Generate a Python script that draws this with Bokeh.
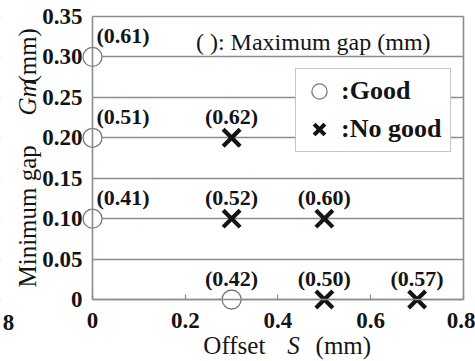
import math
from bokeh.plotting import figure
from bokeh.models import (Range1d, FixedTicker, LinearAxis, Label, Legend,
                          LegendItem, BoxAnnotation, ColumnDataSource)
from bokeh.core.properties import value
from bokeh.embed import file_html
from bokeh.resources import INLINE

# ---- data ----
good_offset = [0.0, 0.0, 0.0, 0.3]
good_min_gap = [0.30, 0.20, 0.10, 0.0]
good_max_gap = [0.61, 0.51, 0.41, 0.42]

ng_offset = [0.3, 0.3, 0.5, 0.5, 0.7]
ng_min_gap = [0.20, 0.10, 0.10, 0.0, 0.0]
ng_max_gap = [0.62, 0.52, 0.60, 0.50, 0.57]

x_ticks = [0, 0.2, 0.4, 0.6, 0.8]
x_tick_labels = ["0", "0.2", "0.4", "0.6", "0.8"]
y_ticks = [0, 0.05, 0.10, 0.15, 0.20, 0.25, 0.30, 0.35]
y_tick_labels = ["0", "0.05", "0.10", "0.15", "0.20", "0.25", "0.30", "0.35"]

GRAY = "#8c8c8c"
INK = "#141414"
SERIF = "Liberation Serif"

XMIN, XMAX = 0.0, 0.8
YMIN, YMAX = 0.0, 0.35
# the frame covers the whole canvas; axes sit at fixed data locations
X0, X1 = -0.1984, 0.8259
Y0, Y1 = -0.0767, 0.3698

p = figure(width=475, height=361, x_range=Range1d(X0, X1), y_range=Range1d(Y0, Y1),
           output_backend="svg", toolbar_location=None,
           min_border_left=0, min_border_right=0, min_border_top=0, min_border_bottom=0,
           background_fill_color="white", border_fill_color="white",
           outline_line_color=None)

# grid (kept inside the plotting area by white masks)
p.xgrid.visible = False
p.ygrid.ticker = FixedTicker(ticks=y_ticks)
p.ygrid.grid_line_color = GRAY
p.ygrid.grid_line_width = 1.6
p.ygrid.level = "image"
p.add_layout(BoxAnnotation(left=X0, right=XMIN, fill_color="white", fill_alpha=1.0,
                           line_color=None, level="underlay"))
p.add_layout(BoxAnnotation(left=XMAX, right=X1, fill_color="white", fill_alpha=1.0,
                           line_color=None, level="underlay"))

# x axis
xa = p.xaxis[0]
xa.ticker = FixedTicker(ticks=x_ticks)
xa.major_label_overrides = {t: l for t, l in zip(x_ticks, x_tick_labels)}
xa.fixed_location = YMIN
xa.bounds = (XMIN, XMAX)
xa.axis_line_color = GRAY
xa.axis_line_width = 1.6
xa.major_tick_in = 5
xa.major_tick_out = 0
xa.major_tick_line_color = GRAY
xa.major_tick_line_width = 1.3
xa.minor_tick_line_color = None
xa.major_label_standoff = 14
xa.major_label_text_font = SERIF
xa.major_label_text_font_style = "bold"
xa.major_label_text_font_size = "23px"
xa.major_label_text_color = INK

# y axis
ya = p.yaxis[0]
ya.ticker = FixedTicker(ticks=y_ticks)
ya.major_label_overrides = {t: l for t, l in zip(y_ticks, y_tick_labels)}
ya.fixed_location = XMIN
ya.bounds = (YMIN, YMAX)
ya.axis_line_color = GRAY
ya.axis_line_width = 1.6
ya.major_tick_in = 0
ya.major_tick_out = 0
ya.minor_tick_line_color = None
ya.major_label_standoff = 10
ya.major_label_text_font = SERIF
ya.major_label_text_font_style = "bold"
ya.major_label_text_font_size = "23px"
ya.major_label_text_color = INK

# right frame border
rb = LinearAxis(ticker=FixedTicker(ticks=[]), bounds=(YMIN, YMAX), fixed_location=XMAX,
                axis_line_color=GRAY, axis_line_width=1.6,
                major_tick_in=0, major_tick_out=0, minor_tick_line_color=None,
                major_label_text_font_size="0px")
p.add_layout(rb, "right")

# markers
good_r = p.scatter(good_offset, good_min_gap, marker="circle", size=19,
                   fill_color="white", line_color="#7a7a7a", line_width=1.3)
ng_r = p.scatter(ng_offset, ng_min_gap, marker="x", size=24,
                 line_color=INK, line_width=4.2)

# value labels (max gap)
all_x = good_offset + ng_offset
all_y = good_min_gap + ng_min_gap
all_t = ["(%.2f)" % v for v in good_max_gap + ng_max_gap]
left_src = ColumnDataSource(dict(
    x=[a for a in all_x if a == 0],
    y=[b for a, b in zip(all_x, all_y) if a == 0],
    t=[c for a, c in zip(all_x, all_t) if a == 0]))
ctr_src = ColumnDataSource(dict(
    x=[a for a in all_x if a != 0],
    y=[b for a, b in zip(all_x, all_y) if a != 0],
    t=[c for a, c in zip(all_x, all_t) if a != 0]))
common = dict(text="t", text_font=value(SERIF), text_font_style="bold",
              text_font_size="22px", text_color=INK, text_baseline="middle",
              y_offset=-21)
p.text(x="x", y="y", source=left_src, text_align="left", x_offset=4, **common)
p.text(x="x", y="y", source=ctr_src, text_align="center", **common)

# note
p.add_layout(Label(x=0.476, y=0.318, text="( ): Maximum gap (mm)",
                   text_font=SERIF, text_font_size="24px", text_color=INK,
                   text_align="center", text_baseline="middle"))

# legend
legend = Legend(items=[LegendItem(label=value(":Good"), renderers=[good_r]),
                       LegendItem(label=value(":No good"), renderers=[ng_r])],
                location=(295, 209), orientation="vertical",
                glyph_width=40, glyph_height=38, spacing=0, padding=3, margin=0,
                label_standoff=2, label_width=106,
                label_text_font=SERIF, label_text_font_style="bold",
                label_text_font_size="26px", label_text_color=INK,
                border_line_color=GRAY, border_line_width=1.3,
                background_fill_color="white", background_fill_alpha=1.0)
p.add_layout(legend)

# axis titles
def lab(x, y, text, style="normal", angle=0.0):
    p.add_layout(Label(x=x, y=y, text=text, angle=angle, text_font=SERIF,
                       text_font_style=style, text_font_size="25px",
                       text_color=INK, text_align="left",
                       text_baseline="alphabetic"))

XT_Y = -0.0569
lab(0.239, XT_Y, "Offset")
lab(0.420, XT_Y, "S", "italic")
lab(0.481, XT_Y, "(mm)")

YT_X = -0.1402
lab(YT_X, 0.0148, "Minimum gap", angle=math.pi / 2)
lab(YT_X, 0.2276, "Gm", "italic", angle=math.pi / 2)
lab(YT_X, 0.267, "(mm)", angle=math.pi / 2)

# clipped fragment of a neighbouring tick label
p.add_layout(Label(x=-0.181, y=-0.0284, text="8", text_font=SERIF,
                   text_font_style="bold", text_font_size="23px", text_color=INK,
                   text_align="center", text_baseline="middle"))

open("out.html", "w").write(file_html(p, INLINE))
